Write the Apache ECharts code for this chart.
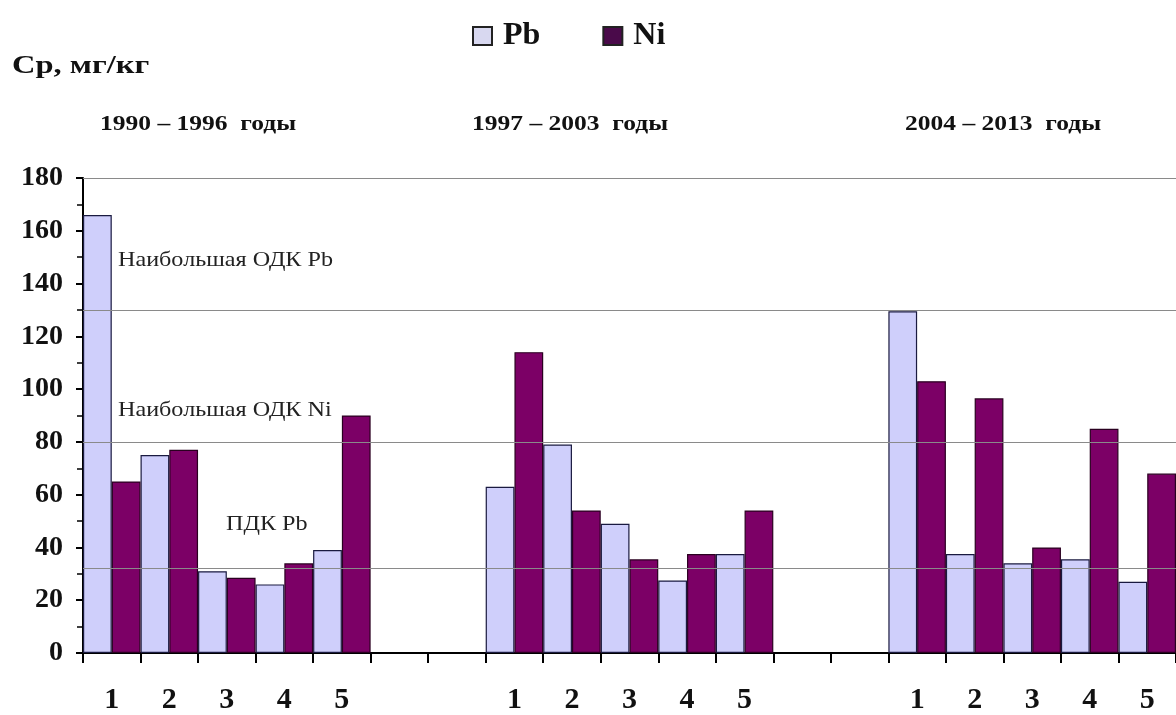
<!DOCTYPE html>
<html>
<head>
<meta charset="utf-8">
<script src="https://cdn.jsdelivr.net/npm/echarts@6/dist/echarts.min.js"></script>
<style>html,body{margin:0;padding:0;background:#fff}#c{width:1176px;height:715px}</style>
</head>
<body>
<div id="c"></div>
<script>
// categories: three periods of 5 points, separated by two empty slots
var categories = ['1','2','3','4','5','','','1','2','3','4','5','','','1','2','3','4','5'];
var pbValues = [166,75,31,26,39, null,null, 63,79,49,27.5,37.5, null,null, 129.5,37.5,34,35.5,27];
var niValues = [65,77,28.5,34,90, null,null, 114,54,35.5,37.5,54, null,null, 103,96.5,40,85,68];
var yTicks = {min:0, max:180, interval:20};
var refLines = [180,130,80,32];
var periodLabels = ['1990 – 1996  годы','1997 – 2003  годы','2004 – 2013  годы'];
var refLabels = ['Наибольшая ОДК Pb','Наибольшая ОДК Ni','ПДК Pb'];
var yTitle = 'Ср, мг/кг';

var serif = '"Liberation Serif","Times New Roman",serif';
function txt(s, x, y, font, sx, fill){
  return {type:'text', x:x, y:y, scaleX:sx, z:100,
    style:{text:s, font:font, fill:fill||'#111', textVerticalAlign:'middle', textAlign:'left'}};
}
var chart = echarts.init(document.getElementById('c'));
chart.setOption({
  animation:false,
  backgroundColor:'#fff',
  legend:{
    left:467, top:15, icon:'rect', itemWidth:19, itemHeight:18, itemGap:62,
    textStyle:{fontFamily:serif, fontWeight:'bold', fontSize:32, color:'#111', padding:[0,0,0,6]},
    data:[
      {name:'Pb', itemStyle:{color:'#D8D8F0', borderColor:'#222', borderWidth:2}},
      {name:'Ni', itemStyle:{color:'#4A0A4A', borderColor:'#222', borderWidth:2}}
    ]
  },
  grid:{left:83, top:178, width:1098, bottom:60, containLabel:false},
  xAxis:{
    type:'category', data:categories,
    axisLine:{lineStyle:{color:'#000', width:2}},
    axisTick:{show:true, length:10, interval:0, lineStyle:{color:'#000', width:2}},
    axisLabel:{interval:0, margin:32, fontFamily:serif, fontWeight:'bold', fontSize:30, color:'#111'},
    splitLine:{show:false}
  },
  yAxis:{
    type:'value', min:yTicks.min, max:yTicks.max, interval:yTicks.interval,
    axisLine:{show:true, lineStyle:{color:'#000', width:2}},
    axisTick:{show:true, length:7, lineStyle:{color:'#000', width:2}},
    minorTick:{show:true, splitNumber:2, length:6, lineStyle:{color:'#000', width:1.5}},
    axisLabel:{margin:20, fontFamily:serif, fontWeight:'bold', fontSize:28, color:'#111'},
    splitLine:{show:false}
  },
  series:[
    {name:'Pb', type:'bar', data:pbValues, barGap:'0%', barCategoryGap:'0%',
     itemStyle:{color:'#CFCFFB', borderColor:'#1a1a40', borderWidth:1.2},
     markLine:{silent:true, symbol:'none', label:{show:false},
       lineStyle:{color:'#8a8a8a', width:1.2, type:'solid'},
       data:refLines.map(function(v){return {yAxis:v};})}
    },
    {name:'Ni', type:'bar', data:niValues,
     itemStyle:{color:'#7C0066', borderColor:'#2a0020', borderWidth:1.2}}
  ],
  graphic:[
    txt(yTitle, 12, 66, 'bold 26px '+serif, 1.25),
    txt(periodLabels[0], 100, 124, 'bold 22px '+serif, 1.16),
    txt(periodLabels[1], 472, 124, 'bold 22px '+serif, 1.16),
    txt(periodLabels[2], 905, 124, 'bold 22px '+serif, 1.16),
    txt(refLabels[0], 118, 260, '21px '+serif, 1.15, '#222'),
    txt(refLabels[1], 118, 410, '21px '+serif, 1.15, '#222'),
    txt(refLabels[2], 226, 524, '21px '+serif, 1.15, '#222')
  ]
});
</script>
</body>
</html>
